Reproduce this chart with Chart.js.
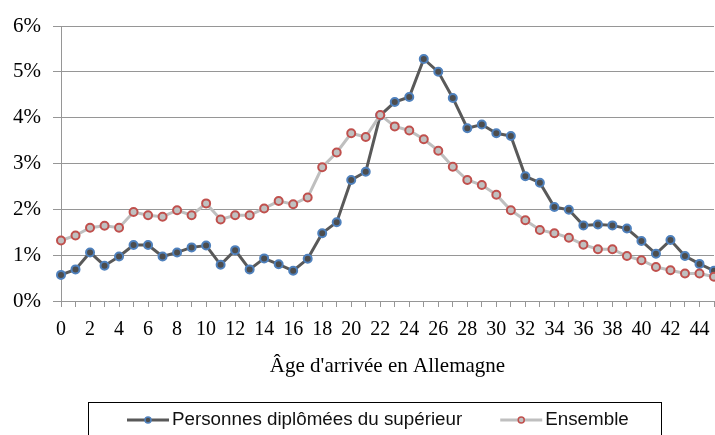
<!DOCTYPE html>
<html>
<head>
<meta charset="utf-8">
<script src="https://cdn.jsdelivr.net/npm/chart.js@4"></script>
<style>
  html, body { margin: 0; padding: 0; background: #fff; overflow: hidden; }
  canvas { display: block; }
</style>
</head>
<body>
<canvas id="ageChart" width="725" height="435"></canvas>
<script>
const ages = ['0','1','2','3','4','5','6','7','8','9','10','11','12','13','14','15','16','17','18','19',
  '20','21','22','23','24','25','26','27','28','29','30','31','32','33','34','35','36','37','38','39',
  '40','41','42','43','44','45'];

const diplomes = [0.57, 0.69, 1.06, 0.77, 0.97, 1.22, 1.22, 0.97, 1.06, 1.17,
  1.21, 0.79, 1.11, 0.69, 0.93, 0.80, 0.66, 0.92, 1.48, 1.72,
  2.64, 2.82, 4.05, 4.34, 4.45, 5.28, 5.00, 4.43, 3.77, 3.85,
  3.66, 3.60, 2.72, 2.58, 2.05, 1.99, 1.65, 1.67, 1.65, 1.58,
  1.31, 1.03, 1.33, 0.98, 0.81, 0.66];

const ensemble = [1.32, 1.43, 1.60, 1.64, 1.60, 1.94, 1.87, 1.84, 1.98, 1.87,
  2.13, 1.78, 1.87, 1.87, 2.02, 2.18, 2.11, 2.26, 2.92, 3.24,
  3.66, 3.58, 4.06, 3.81, 3.72, 3.53, 3.28, 2.93, 2.64, 2.53,
  2.32, 1.98, 1.76, 1.55, 1.48, 1.38, 1.23, 1.13, 1.13, 0.98,
  0.89, 0.74, 0.67, 0.60, 0.60, 0.53];

const yTicks = [0, 1, 2, 3, 4, 5, 6];

const gridColor = '#969696';
const serif = '"Liberation Serif", "Times New Roman", serif';
const sans = '"Liberation Sans", Arial, sans-serif';

// boxed legend under the axis title, Excel style (line + marker sample)
const boxLegend = {
    id: 'boxLegend',
    afterDraw(chart) {
        const ctx = chart.ctx;
        ctx.save();
        ctx.strokeStyle = '#000';
        ctx.lineWidth = 1;
        ctx.strokeRect(88.5, 402.5, 573, 40);

        ctx.font = '18.8px ' + sans;
        ctx.textBaseline = 'middle';
        const y = 420;
        let x = 127;
        chart.data.datasets.forEach(ds => {
            ctx.strokeStyle = ds.borderColor;
            ctx.lineWidth = 3;
            ctx.beginPath();
            ctx.moveTo(x, y);
            ctx.lineTo(x + 42, y);
            ctx.stroke();
            ctx.beginPath();
            ctx.arc(x + 21, y, 3, 0, Math.PI * 2);
            ctx.fillStyle = ds.pointBackgroundColor;
            ctx.fill();
            ctx.lineWidth = 1.5;
            ctx.strokeStyle = ds.pointBorderColor;
            ctx.stroke();
            ctx.fillStyle = '#111';
            ctx.fillText(ds.label, x + 45, y);
            x += 45 + ctx.measureText(ds.label).width + 38;
        });
        ctx.restore();
    }
};

new Chart(document.getElementById('ageChart'), {
    type: 'line',
    data: {
        labels: ages,
        datasets: [{
            label: 'Personnes diplômées du supérieur',
            data: diplomes,
            borderColor: '#595959',
            borderWidth: 3,
            pointBackgroundColor: '#4d4d4d',
            pointBorderColor: '#4f81bd',
            pointBorderWidth: 2,
            pointRadius: 4,
            tension: 0,
            order: 2
        }, {
            label: 'Ensemble',
            data: ensemble,
            borderColor: '#bfbfbf',
            borderWidth: 3,
            pointBackgroundColor: '#c0c0c0',
            pointBorderColor: '#c0504d',
            pointBorderWidth: 2,
            pointRadius: 4,
            tension: 0,
            order: 1
        }]
    },
    options: {
        responsive: false,
        animation: false,
        layout: { padding: { top: 26, left: 0, right: 8.4, bottom: 55 } },
        plugins: {
            legend: { display: false },
            tooltip: { enabled: false }
        },
        scales: {
            x: {
                offset: false,
                afterFit: scale => { scale.height = 79; },
                border: { color: gridColor, width: 1 },
                grid: { drawOnChartArea: false, color: gridColor, tickLength: 6 },
                ticks: {
                    autoSkip: false,
                    maxRotation: 0,
                    padding: 11,
                    color: '#000',
                    font: { family: serif, size: 20 },
                    callback: (v, i) => (i % 2 === 0 ? ages[i] : '')
                },
                title: {
                    display: true,
                    text: "Âge d'arrivée en Allemagne",
                    color: '#000',
                    font: { family: serif, size: 21 },
                    padding: { top: 0, bottom: 1 }
                }
            },
            y: {
                min: 0,
                max: 6,
                afterFit: scale => { scale.width = 61; },
                afterBuildTicks: scale => { scale.ticks = yTicks.map(v => ({ value: v })); },
                border: { color: gridColor, width: 1 },
                grid: { color: gridColor, tickLength: 8 },
                ticks: {
                    padding: 12,
                    color: '#000',
                    font: { family: serif, size: 21 },
                    callback: v => v + '%'
                }
            }
        }
    },
    plugins: [boxLegend]
});
</script>
</body>
</html>
